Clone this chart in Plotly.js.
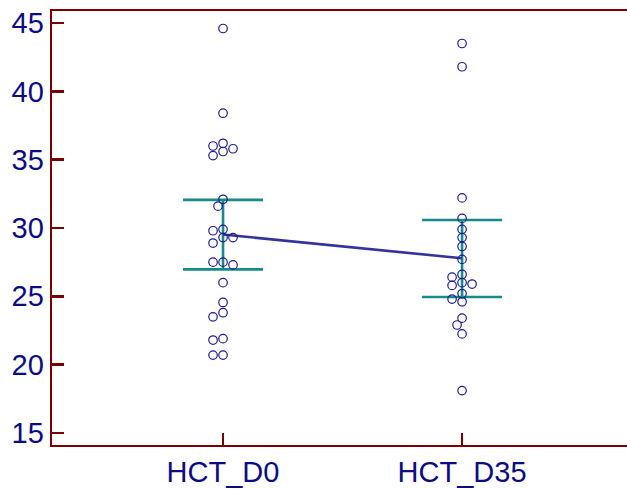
<!DOCTYPE html>
<html>
<head>
<meta charset="utf-8">
<script src="https://cdn.plot.ly/plotly-3.0.1.min.js"></script>
<style>html,body{margin:0;padding:0;background:#fff;}#chart{width:627px;height:489px;}</style>
</head>
<body>
<div id="chart"></div>
<script>
// ---- data ----
const categories = ["HCT_D0", "HCT_D35"];
const hctD0 = [44.6, 38.4, 36.2, 36.0, 35.8, 35.6, 35.3, 32.1, 31.6, 29.9, 29.8, 29.3, 29.3, 28.9,
               27.5, 27.5, 27.3, 26.0, 24.55, 23.8, 23.5, 21.9, 21.8, 20.7, 20.7];
const hctD35 = [43.5, 41.8, 32.2, 30.7, 29.9, 29.3, 28.65, 27.7, 26.6, 26.4, 26.0, 25.9, 25.8,
                25.2, 24.8, 24.6, 23.4, 22.9, 22.25, 18.1];
const ciLow = [26.97, 24.95];
const ciHigh = [32.06, 30.58];
const yTickVals = [15, 20, 25, 30, 35, 40, 45];

// ---- styling ----
const navy = "#1c1c8e";
const lineBlue = "#33339b";
const teal = "#178a8a";
const axisRed = "#7a0000";
const textNavy = "#0b0b82";

const groups = [hctD0, hctD35];
const means = groups.map(g => g.reduce((a, b) => a + b, 0) / g.length);

// layout geometry
const W = 627, H = 489;
const margin = {l: 52, r: 0, t: 11, b: 44};
const xRange = [-0.7155, 1.690];
const yRange = [14.12, 45.88];
const pxPerX = (W - margin.l - margin.r) / (xRange[1] - xRange[0]);
const pxPerY = (H - margin.t - margin.b) / (yRange[1] - yRange[0]);

// deterministic dot-plot spreading (greedy swarm)
function swarm(vals, center) {
  const order = vals.map((v, i) => i).sort((a, b) => vals[b] - vals[a]);
  const placed = [];
  const xs = new Array(vals.length);
  const step = 5, minD = 7.6;
  order.forEach(i => {
    const py = vals[i] * pxPerY;
    const cands = [0];
    for (let k = 1; k < 10; k++) { cands.push(-k * step, k * step); }
    let chosen = 0;
    for (const c of cands) {
      if (placed.every(p => Math.hypot(p.x - c, p.y - py) >= minD)) { chosen = c; break; }
    }
    placed.push({x: chosen, y: py});
    xs[i] = center + chosen / pxPerX;
  });
  return xs;
}

const traces = [];
// error bars (CI) with mean line
traces.push({
  type: "scatter", mode: "markers",
  x: [0, 1], y: means,
  marker: {size: 1, opacity: 0, color: teal},
  error_y: {
    type: "data", symmetric: false,
    array: ciHigh.map((h, i) => h - means[i]),
    arrayminus: ciLow.map((l, i) => means[i] - l),
    color: teal, thickness: 2.6, width: 40
  },
  hoverinfo: "skip", showlegend: false
});
traces.push({
  type: "scatter", mode: "lines",
  x: [0, 1], y: means,
  line: {color: lineBlue, width: 2.6},
  showlegend: false
});
groups.forEach((g, gi) => {
  traces.push({
    type: "scatter", mode: "markers",
    x: swarm(g, gi), y: g,
    marker: {symbol: "circle-open", size: 8.5, color: navy, line: {width: 1.2, color: navy}},
    showlegend: false
  });
});

const layout = {
  width: W, height: H,
  margin: margin,
  paper_bgcolor: "#fff", plot_bgcolor: "#fff",
  font: {family: "Liberation Sans, Arial, sans-serif", size: 29, color: textNavy},
  showlegend: false,
  xaxis: {
    range: xRange, tickvals: [0, 1], ticktext: categories,
    showgrid: false, zeroline: false,
    showline: true, linecolor: axisRed, linewidth: 2.4, mirror: true,
    ticks: "inside", ticklen: 12, tickwidth: 2.4, tickcolor: axisRed,
    tickfont: {size: 29, color: textNavy}
  },
  yaxis: {
    range: yRange, tickvals: yTickVals,
    showgrid: false, zeroline: false,
    showline: true, linecolor: axisRed, linewidth: 2.4, mirror: false,
    ticks: "inside", ticklen: 12, tickwidth: 2.4, tickcolor: axisRed,
    tickfont: {size: 29, color: textNavy}
  }
};

Plotly.newPlot("chart", traces, layout, {staticPlot: true, displayModeBar: false});
</script>
</body>
</html>
